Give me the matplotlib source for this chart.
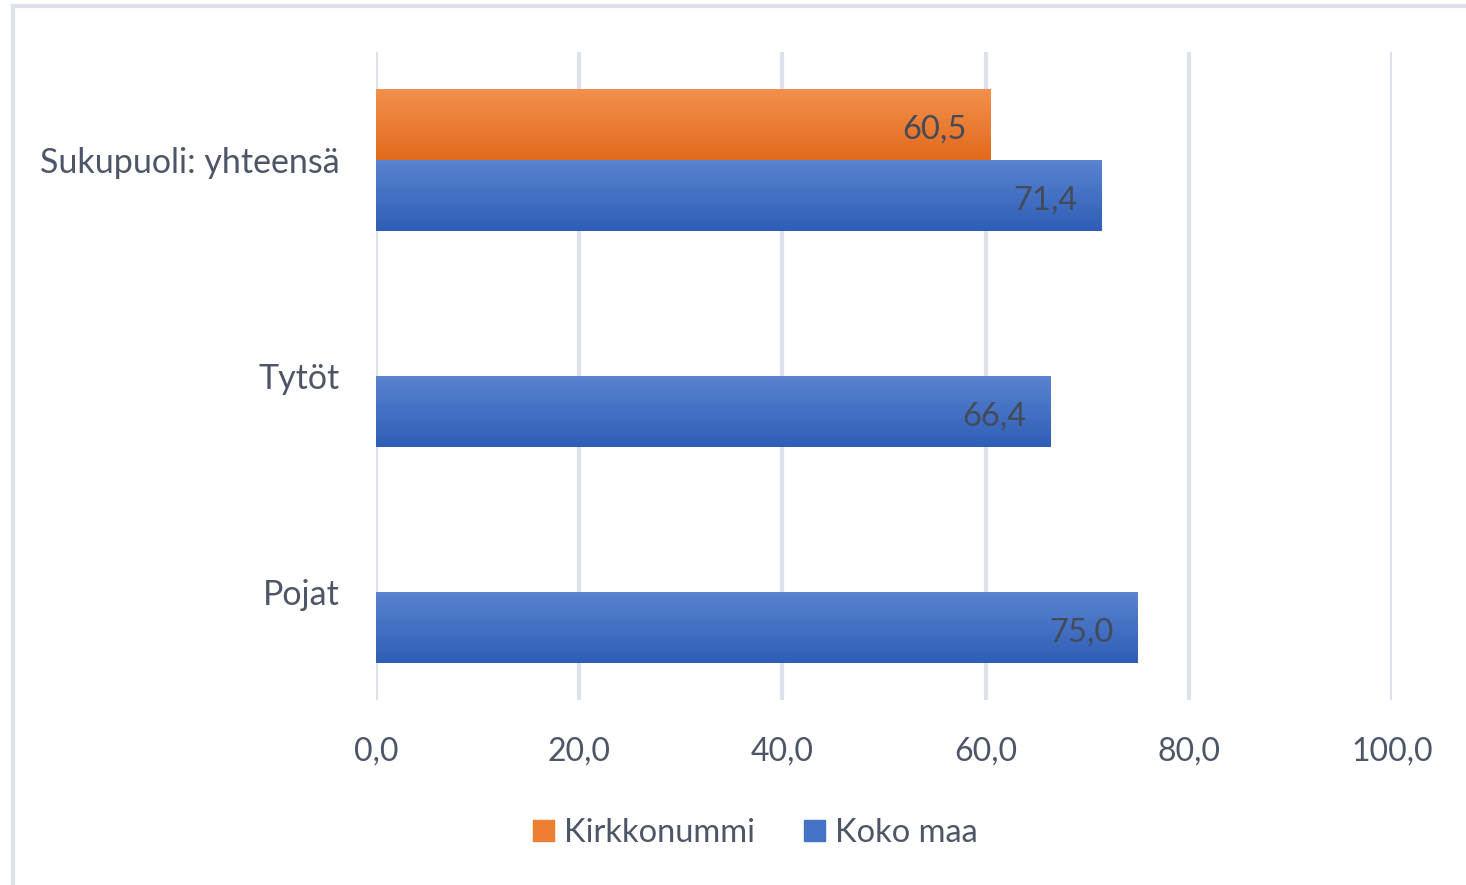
import numpy as np
import matplotlib
matplotlib.use("Agg")
import matplotlib.pyplot as plt
from matplotlib.colors import LinearSegmentedColormap
from matplotlib.patches import Rectangle

plt.rcParams['font.family'] = ['Lato', 'DejaVu Sans']

categories = ["Sukupuoli: yhteensä", "Tytöt", "Pojat"]
series_names = ["Kirkkonummi", "Koko maa"]
kirkkonummi = [60.5, np.nan, np.nan]
koko_maa = [71.4, 66.4, 75.0]
xticks = [0, 20, 40, 60, 80, 100]
xtick_labels = ["0,0", "20,0", "40,0", "60,0", "80,0", "100,0"]

text_col = "#4D5666"
label_col = "#434B58"
grid_col = "#DCE1EA"
grads = {
    "Kirkkonummi": ("#F3914E", "#E2691B"),
    "Koko maa": ("#5B84D1", "#2E5EB6"),
}
solid = {"Kirkkonummi": "#ED7D31", "Koko maa": "#4472C4"}

fig = plt.figure(figsize=(14.66, 8.85), dpi=100)
ax = fig.add_axes([376 / 1466, 1 - 700 / 885, (1392 - 376) / 1466, (700 - 52) / 885])

h = 0.33
y = np.arange(len(categories))
offsets = {"Kirkkonummi": -h / 2, "Koko maa": h / 2}
data = {"Kirkkonummi": kirkkonummi, "Koko maa": koko_maa}

for name in series_names:
    top, bot = grads[name]
    cmap = LinearSegmentedColormap.from_list(name, [top, bot])
    grad = np.linspace(0, 1, 256).reshape(-1, 1)
    vals = data[name]
    bars = ax.barh(y + offsets[name], vals, height=h, color=solid[name],
                   edgecolor="none", zorder=2, label=name)
    for bar, v in zip(bars, vals):
        if np.isnan(v):
            continue
        x0, y0 = bar.get_x(), bar.get_y()
        w, hh = bar.get_width(), bar.get_height()
        im = ax.imshow(grad, cmap=cmap, aspect="auto",
                       extent=(x0, x0 + w, y0 + hh, y0), origin="upper",
                       zorder=3, interpolation="bilinear")
        im.set_clip_path(bar)
        ax.annotate(f"{v:.1f}".replace(".", ","),
                    xy=(x0 + w, y0 + hh / 2), xytext=(-24, -5),
                    textcoords="offset pixels",
                    ha="right", va="center", fontsize=23.5, color=label_col, zorder=4)

ax.set_xlim(0, 100)
ax.set_ylim(len(categories) - 0.5, -0.5)
ax.set_yticks(y)
ax.set_yticklabels(categories)
ax.set_xticks(xticks)
ax.set_xticklabels(xtick_labels)
ax.tick_params(axis="both", length=0, labelcolor=text_col)
ax.tick_params(axis="x", labelsize=23, pad=26)
ax.tick_params(axis="y", labelsize=24.5, pad=26)
ax.grid(axis="x", color=grid_col, linewidth=3, zorder=0)
ax.set_axisbelow(True)
for s in ax.spines.values():
    s.set_visible(False)

handles = [Rectangle((0, 0), 1, 1, color=solid[n]) for n in series_names]
fig.legend(handles, series_names, loc="center", bbox_to_anchor=(755 / 1466, 1 - 833 / 885),
           ncol=2, frameon=False, fontsize=23.5, labelcolor=text_col,
           handlelength=0.65, handleheight=0.65, handletextpad=0.3, columnspacing=1.5)

# chart frame
fig.add_artist(plt.Line2D([13 / 1466, 13 / 1466], [0, 1 - 6 / 885], transform=fig.transFigure,
                          color=grid_col, linewidth=3))
fig.add_artist(plt.Line2D([13 / 1466, 1], [1 - 6 / 885, 1 - 6 / 885], transform=fig.transFigure,
                          color=grid_col, linewidth=3))

fig.savefig("out.png", dpi=100)
